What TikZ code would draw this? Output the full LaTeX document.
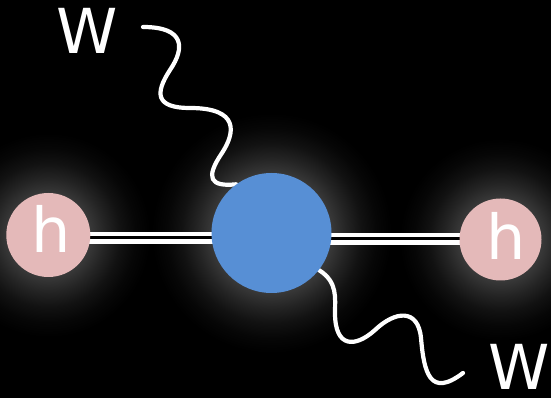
\documentclass[tikz,border=0pt]{standalone}
\usepackage{fontspec}
\setmainfont{DejaVu Sans}
\definecolor{bluec}{RGB}{87,143,213}
\definecolor{pinkc}{RGB}{228,185,185}
\definecolor{glowA}{gray}{0.22}
\definecolor{glowB}{gray}{0.14}
\definecolor{glowC}{gray}{0.07}
\definecolor{glowD}{gray}{0.025}
\pgfdeclareradialshading{glowblue}{\pgfpoint{0bp}{0bp}}{%
  color(0bp)=(glowA); color(12.5bp)=(glowA); color(15.625bp)=(glowB);
  color(18.75bp)=(glowC); color(21.875bp)=(glowD); color(25bp)=(black); color(50bp)=(black)}
\pgfdeclareradialshading{glowh}{\pgfpoint{0bp}{0bp}}{%
  color(0bp)=(glowA); color(10.29bp)=(glowA); color(13.97bp)=(glowB);
  color(17.65bp)=(glowC); color(21.32bp)=(glowD); color(25bp)=(black); color(50bp)=(black)}
\begin{document}
\begin{tikzpicture}[x=1pt,y=1pt,
  blob/.style={circle, inner sep=0pt, draw=none},
  lbl/.style={text=white, inner sep=0pt, font=\fontsize{62}{62}\selectfont},
  dline/.style={draw=white, line width=4.5pt, double=black, double distance=3pt},
  wave/.style={draw=white, line width=4.2pt, line cap=round}]
\useasboundingbox (0,0) rectangle (551,398);
\fill[black] (0,0) rectangle (551,398);
% glows
\shade[shading=glowh] (48.3,163) circle (102);
\shade[shading=glowh] (500.5,158.5) circle (101);
\shade[shading=glowblue] (271.5,165) circle (120);
% nodes (drawn later on top)
\path (48.3,163) node[blob, minimum size=84pt] (hl) {}
      (500.5,158.5) node[blob, minimum size=82pt] (hr) {}
      (271.5,165) node[blob, minimum size=120pt] (blue) {};
\coordinate (wa) at (143,371);
\coordinate (wb) at (463,25);
% connectors
\draw[dline] ([yshift=-3pt]hl.center) -- ([yshift=-5pt]blue.center);
\draw[dline] ([yshift=-6pt]blue.center) -- ([yshift=0.5pt]hr.center);
\draw[wave] (wa) .. controls (185,371) and (185,350) .. (170,328)
  .. controls (155,305) and (155,290) .. (190,290)
  .. controls (240,290) and (235,265) .. (222,245)
  .. controls (205,220) and (210,211) .. (blue.126);
\draw[wave] (blue.-38) .. controls (338,116) and (335,100) .. (335,85)
  .. controls (335,50) and (355,50) .. (375,68)
  .. controls (395,87) and (418,90) .. (421,60)
  .. controls (424,25) and (430,0) .. (wb);
% circles
\fill[pinkc] (hl.center) circle (42);
\fill[pinkc] (hr.center) circle (41);
\fill[bluec] (blue.center) circle (60);
% labels
\node[lbl] (hlt) at (51,169.5) {h};
\node[lbl] (hrt) at (506.5,162) {h};
\node[lbl] (w1) at (87.5,367.5) {W};
\node[lbl] (w2) at (519.5,31) {W};
\end{tikzpicture}
\end{document}
